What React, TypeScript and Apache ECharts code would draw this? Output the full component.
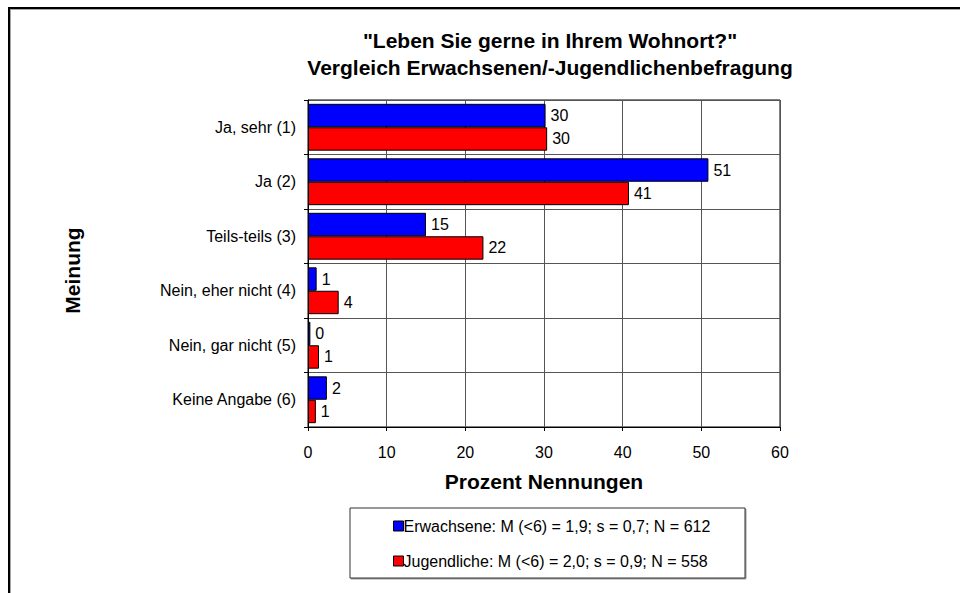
import React, { useEffect, useRef } from "react";
import * as echarts from "echarts";

const categories = [
  "Ja, sehr (1)",
  "Ja (2)",
  "Teils-teils (3)",
  "Nein, eher nicht (4)",
  "Nein, gar nicht (5)",
  "Keine Angabe (6)",
];
const erwachsene = [30.2, 50.9, 15.0, 1.1, 0.3, 2.4];
const jugendliche = [30.4, 40.8, 22.3, 3.9, 1.4, 1.0];
const seriesNames = [
  "Erwachsene: M (<6) = 1,9; s = 0,7; N = 612",
  "Jugendliche: M (<6) = 2,0; s = 0,9; N = 558",
];
const titleLines = ['"Leben Sie gerne in Ihrem Wohnort?"', "Vergleich Erwachsenen/-Jugendlichenbefragung"];
const xAxisTitle = "Prozent Nennungen";
const yAxisTitle = "Meinung";

const FONT = "'Liberation Sans', Arial, sans-serif";

export default function App() {
  const ref = useRef<HTMLDivElement>(null);
  useEffect(() => {
    document.body.style.margin = "0";
    document.body.style.overflow = "hidden";
    const chart = echarts.init(ref.current!, null, { renderer: "svg" });
    const labelCfg = {
      show: true,
      position: "right" as const,
      distance: 5,
      color: "#000",
      fontSize: 16,
      fontFamily: FONT,
      formatter: (p: any) => String(Math.round(p.value)),
    };
    chart.setOption({
      animation: false,
      backgroundColor: "#fff",
      textStyle: { fontFamily: FONT },
      title: {
        text: titleLines.join("\n"),
        left: 545,
        textAlign: "center",
        top: 22,
        textStyle: { fontSize: 21, fontWeight: "bold", color: "#000", lineHeight: 27, fontFamily: FONT },
      },
      grid: {
        left: 308,
        top: 100,
        width: 472,
        height: 327,
        show: true,
        borderColor: "#000",
        borderWidth: 1,
        backgroundColor: "transparent",
      },
      legend: {
        orient: "vertical",
        left: 388,
        top: 513,
        itemWidth: 10,
        itemHeight: 10,
        itemGap: 19,
        icon: "rect",
        data: seriesNames,
        textStyle: { fontSize: 16, color: "#000", fontFamily: FONT, padding: [0, 0, 0, -5] },
        itemStyle: { borderColor: "#000", borderWidth: 1 },
        selectedMode: false,
      },
      xAxis: {
        type: "value",
        min: 0,
        max: 60,
        interval: 10,
        name: xAxisTitle,
        nameLocation: "middle",
        nameGap: 44,
        nameTextStyle: { fontSize: 21, fontWeight: "bold", color: "#000", fontFamily: FONT },
        axisLine: { show: true, lineStyle: { color: "#000", width: 1 } },
        axisTick: { show: true, length: 4, lineStyle: { color: "#000" } },
        axisLabel: { fontSize: 16, color: "#000", margin: 17, fontFamily: FONT },
        splitLine: { show: true, lineStyle: { color: "#555", width: 1 } },
      },
      yAxis: {
        type: "category",
        data: categories,
        inverse: true,
        name: yAxisTitle,
        nameLocation: "middle",
        nameGap: 225,
        nameRotate: 90,
        nameTextStyle: { fontSize: 21, fontWeight: "bold", color: "#000", fontFamily: FONT, padding: [0, 14, 0, 0] },
        axisLine: { show: true, lineStyle: { color: "#000", width: 1 } },
        axisTick: { show: true, length: 4, alignWithLabel: false, lineStyle: { color: "#000" } },
        axisLabel: { fontSize: 16, color: "#000", margin: 12, fontFamily: FONT },
        splitLine: { show: true, lineStyle: { color: "#555", width: 1 } },
      },
      series: [
        {
          name: seriesNames[0],
          type: "bar",
          data: erwachsene,
          barGap: "0%",
          barCategoryGap: "14%",
          itemStyle: { color: "#0000ff", borderColor: "#000", borderWidth: 1 },
          label: labelCfg,
        },
        {
          name: seriesNames[1],
          type: "bar",
          data: jugendliche,
          barGap: "0%",
          barCategoryGap: "14%",
          itemStyle: { color: "#ff0000", borderColor: "#000", borderWidth: 1 },
          label: labelCfg,
        },
      ],
      graphic: [
        {
          type: "rect",
          z: 100,
          shape: { x: 9, y: 8, width: 1200, height: 900 },
          style: { fill: "none", stroke: "#000", lineWidth: 2, shadowColor: "rgba(0,0,0,0.35)", shadowOffsetX: 1, shadowOffsetY: 1 },
          silent: true,
        },
        {
          type: "rect",
          z: 0,
          shape: { x: 350, y: 508, width: 395, height: 70 },
          style: { fill: "#fff", stroke: "#333", lineWidth: 1, shadowColor: "rgba(0,0,0,0.4)", shadowOffsetX: 1, shadowOffsetY: 1 },
          silent: true,
        },
      ],
    });
    return () => chart.dispose();
  }, []);
  return <div ref={ref} style={{ width: 960, height: 593 }} />;
}
